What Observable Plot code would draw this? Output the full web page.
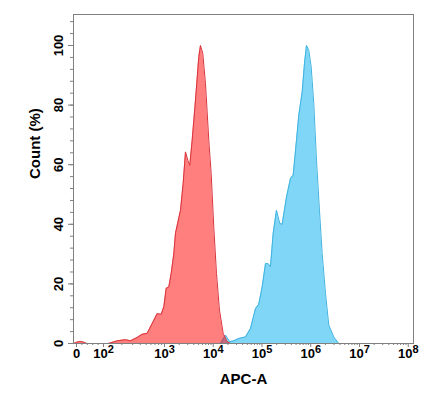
<!DOCTYPE html>
<html>
<head>
<meta charset="utf-8">
<script src="https://cdn.jsdelivr.net/npm/d3@7"></script>
<script src="https://cdn.jsdelivr.net/npm/@observablehq/plot@0.6"></script>
<style>
  html, body { margin: 0; padding: 0; background: #fff; }
  #chart { width: 447px; height: 397px; }
</style>
</head>
<body>
<div id="chart"></div>
<script>
// ---- data (APC-A fluorescence, Count %) ----
const redX = [-10, 0, 12, 25, 38, 120, 168, 230, 277, 356, 431, 520, 629, 759, 883, 975, 1083, 1227, 1371, 1552, 1681, 2130, 2415, 2697, 3013, 3306, 3698, 4325, 5058, 5475, 6107, 6934, 8110, 9074, 10260, 11660, 13430, 15990, 19320, 22590];
const redY = [0, 0.4, 0.7, 0.5, 0, 0, 0.9, 1.3, 0.9, 2, 3.1, 3.4, 6.7, 10, 9.8, 12.3, 18.5, 19, 23.5, 30, 37, 44.7, 53.7, 64.3, 61.5, 59.8, 68.2, 81.7, 96.2, 100, 97.3, 87.2, 68.2, 57, 39, 23.5, 11.2, 3.4, 0.6, 0];

const blueX = [14090, 17830, 21880, 26420, 33450, 45880, 58080, 73540, 85960, 100900, 118000, 133900, 149300, 169800, 198300, 231900, 259500, 318400, 384600, 436500, 510500, 569200, 668300, 745000, 818500, 912000, 1021000, 1156000, 1312000, 1511000, 1717000, 2009000, 2345000, 2971000, 3761000];
const blueY = [0, 2.8, 0.6, 0.9, 1.7, 2.2, 5, 11.7, 13.2, 19, 26.8, 26.8, 25.7, 37, 44.7, 40.3, 40, 49.2, 55.4, 56.5, 68.2, 76.6, 84.5, 94, 100, 98.4, 92.8, 80.5, 61.5, 44.7, 30.2, 16.8, 6.2, 2.2, 0];

const xMajor = [0, 1e2, 1e3, 1e4, 1e5, 1e6, 1e7, 1e8];
const xMajorLabels = ["0", "10^2", "10^3", "10^4", "10^5", "10^6", "10^7", "10^8"];
const yMajor = [0, 20, 40, 60, 80, 100];
const yMinor = d3.range(0, 109, 4);
const xTitle = "APC-A";
const yTitle = "Count (%)";

// biexponential-like display transform (units: decades)
function xPos(v) {
  if (v <= 100) return 0.554 * v / 100;
  if (v <= 1000) return 0.554 + 1.251 * Math.log10(v / 100);
  return 1.805 + Math.log10(v / 1000);
}
const xMinor = [20, 40, 60, 80];
for (let e = 2; e < 8; e++) for (let m = 2; m <= 9; m++) xMinor.push(m * Math.pow(10, e));

const red = redX.map((v, i) => ({x: xPos(v), y: redY[i]}));
const blue = blueX.map((v, i) => ({x: xPos(v), y: blueY[i]}));
const xLab = xMajor.map((v, i) => ({x: xPos(v), t: xMajorLabels[i]}));

const font = "Liberation Sans, Arial, Helvetica, sans-serif";
const gray = "#808080";

const chart = Plot.plot({
  width: 447,
  height: 397,
  marginLeft: 73,
  marginRight: 34,
  marginTop: 14,
  marginBottom: 54,
  style: {fontFamily: font, background: "#fff", color: "#000"},
  x: {domain: [xPos(-11.1), 6.913], label: null},
  y: {domain: [0, 110.4], label: null},
  marks: [
    Plot.areaY(blue, {x: "x", y: "y", fill: "#80d6f6", curve: "linear"}),
    Plot.lineY(blue, {x: "x", y: "y", stroke: "#3fb3e0", strokeWidth: 1, curve: "linear"}),
    Plot.areaY(red, {x: "x", y: "y", fill: "#ff0000", fillOpacity: 0.5, curve: "linear"}),
    Plot.lineY(red, {x: "x", y: "y", stroke: "#d8343c", strokeWidth: 1, curve: "linear"}),
    Plot.frame({stroke: gray}),
    Plot.axisY(yMajor, {tickSize: 5, stroke: gray, tickFormat: () => "", label: null}),
    Plot.axisY(yMinor, {tickSize: 3, stroke: gray, tickFormat: () => "", label: null}),
    Plot.axisX(xMajor.map(xPos), {tickSize: 4, stroke: gray, tickFormat: () => "", label: null}),
    Plot.axisX(xMinor.map(xPos), {tickSize: 2, stroke: gray, tickFormat: () => "", label: null}),
    Plot.text(yMajor, {y: d => d, text: d => String(d), frameAnchor: "left", dx: -15, rotate: -90,
      fontSize: 13, fontWeight: "bold", fill: "#000", textAnchor: "middle"}),
    Plot.text(xLab, {x: "x", text: "t", frameAnchor: "bottom", dy: 14, fontSize: 13,
      fontWeight: "bold", fill: "#000", textAnchor: "middle", className: "xlab"}),
    Plot.text([yTitle], {text: d => d, frameAnchor: "left", dx: -38, rotate: -90,
      fontSize: 15, fontWeight: "bold", fill: "#000"}),
    Plot.text([xTitle], {text: d => d, frameAnchor: "bottom", dy: 40,
      fontSize: 15, fontWeight: "bold", fill: "#000"})
  ]
});

// superscript exponents in tick labels
chart.querySelectorAll(".xlab text").forEach(t => {
  const s = t.textContent;
  const k = s.indexOf("^");
  if (k >= 0) {
    t.textContent = s.slice(0, k);
    const sup = document.createElementNS("http://www.w3.org/2000/svg", "tspan");
    sup.setAttribute("dy", "-0.45em");
    sup.setAttribute("font-size", "11");
    sup.textContent = s.slice(k + 1);
    t.appendChild(sup);
  }
});

document.getElementById("chart").appendChild(chart);
</script>
</body>
</html>
